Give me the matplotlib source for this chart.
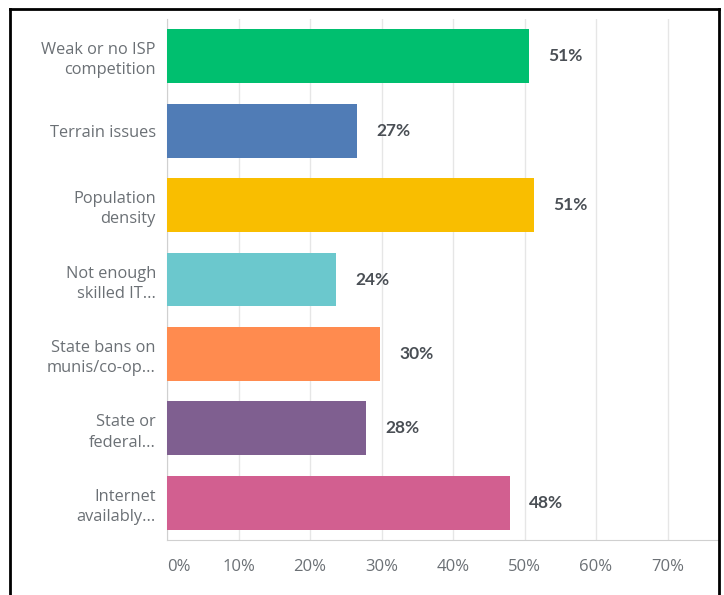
import matplotlib.pyplot as plt
from matplotlib.lines import Line2D

plt.rcParams['font.family'] = ['Open Sans', 'DejaVu Sans']

# 数据
categories = ['Weak or no ISP\ncompetition', 'Terrain issues', 'Population\ndensity',
              'Not enough\nskilled IT...', 'State bans on\nmunis/co-op...',
              'State or\nfederal...', 'Internet\navailably...']
values = [50.6, 26.6, 51.3, 23.7, 29.8, 27.9, 48.0]
colors = ['#00BF6F', '#507CB6', '#F9BE00', '#6BC8CD', '#FF8B4F', '#7F5F90', '#D25F90']
xticks = [0, 10, 20, 30, 40, 50, 60, 70]

W, H = 724, 595
fig = plt.figure(figsize=(W / 100, H / 100), dpi=100)
ax = fig.add_axes([167 / W, 1 - 540 / H, (719 - 167) / W, (540 - 19) / H])

y = list(range(len(categories)))
ax.barh(y, values, height=0.725, color=colors, zorder=3)
for yi, v in zip(y, values):
    ax.text(v + 2.65, yi, f'{round(v)}%', va='center', ha='left',
            fontsize=12.5, fontweight='bold', color='#4a4f55',
            family=['Lato', 'DejaVu Sans'])

ax.set_ylim(len(categories) - 0.5, -0.5)
ax.set_xlim(0, 77.2)
ax.set_yticks(y)
ax.set_yticklabels(categories, fontsize=11.8, color='#6b7075', linespacing=1.35)
ax.set_xticks(xticks)
ax.set_xticklabels([f'{t}%' for t in xticks], fontsize=12, color='#6b7075')
ax.get_xticklabels()[0].set_ha('left')
ax.tick_params(axis='both', length=0)
ax.tick_params(axis='y', pad=8)
ax.tick_params(axis='x', pad=14)

ax.grid(axis='x', color='#e6e6e6', linewidth=1, zorder=0)
for s in ['top', 'right']:
    ax.spines[s].set_visible(False)
ax.spines['left'].set_color('#d0d0d0')
ax.spines['bottom'].set_color('#d0d0d0')

# 外框
kw = dict(color='black', linewidth=2, transform=fig.transFigure, figure=fig)
fig.lines.append(Line2D([10 / W, 10 / W], [0, 1 - 9 / H], **kw))
fig.lines.append(Line2D([10 / W, 719 / W], [1 - 9 / H, 1 - 9 / H], **kw))
fig.lines.append(Line2D([719 / W, 719 / W], [0, 1 - 9 / H], **kw))

plt.savefig('out.png', dpi=100)
plt.close()
